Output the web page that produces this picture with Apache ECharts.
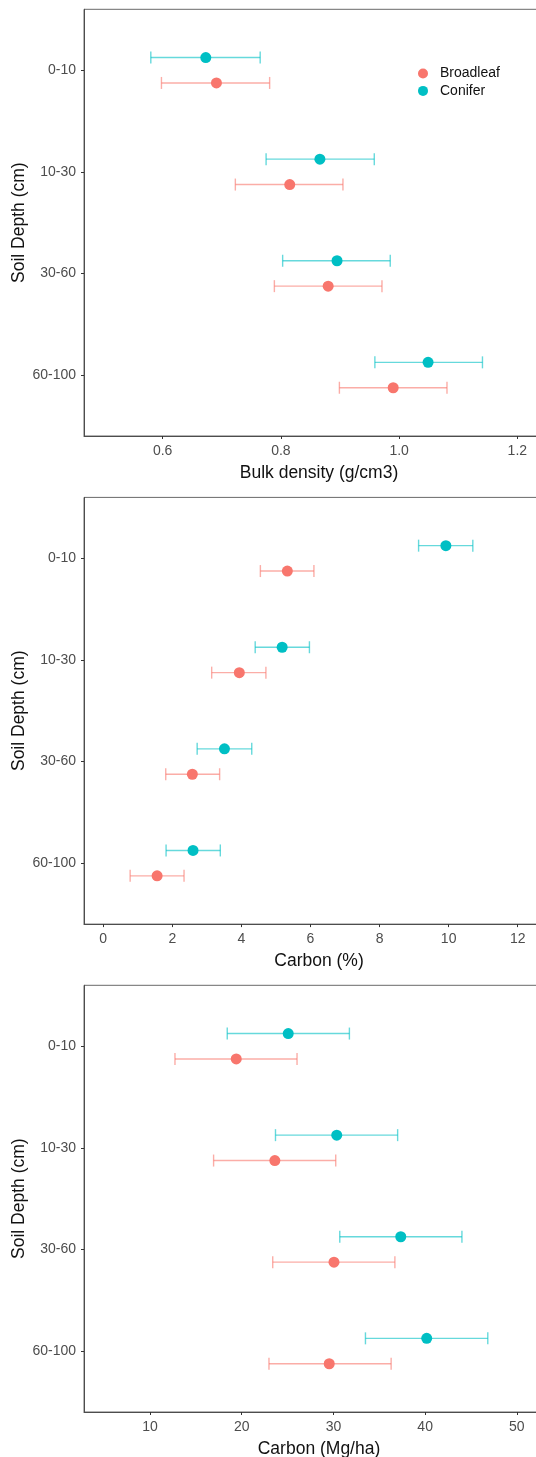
<!DOCTYPE html>
<html>
<head>
<meta charset="utf-8">
<script src="https://cdn.jsdelivr.net/npm/echarts@6/dist/echarts.min.js"></script>
<style>
html,body{margin:0;padding:0;background:#fff;}
#chart{width:536px;height:1457px;}
</style>
</head>
<body>
<div id="chart"></div>
<script>
// ---- data ----
const depthLabels = ['0-10', '10-30', '30-60', '60-100'];
const groupNames = ['Broadleaf', 'Conifer'];

// Panel 1: Bulk density (g/cm3)
const bdTicks = [0.6, 0.8, 1.0, 1.2];
const bdBroadMean = [0.691, 0.815, 0.880, 0.990];
const bdBroadLow  = [0.598, 0.723, 0.789, 0.899];
const bdBroadHigh = [0.781, 0.905, 0.971, 1.081];
const bdConMean   = [0.673, 0.866, 0.895, 1.049];
const bdConLow    = [0.580, 0.775, 0.803, 0.959];
const bdConHigh   = [0.765, 0.958, 0.985, 1.141];

// Panel 2: Carbon (%)
const cpTicks = [0, 2, 4, 6, 8, 10, 12];
const cpBroadMean = [5.33, 3.94, 2.58, 1.56];
const cpBroadLow  = [4.55, 3.14, 1.81, 0.78];
const cpBroadHigh = [6.10, 4.71, 3.37, 2.34];
const cpConMean   = [9.92, 5.18, 3.51, 2.60];
const cpConLow    = [9.13, 4.40, 2.72, 1.82];
const cpConHigh   = [10.70, 5.97, 4.30, 3.39];

// Panel 3: Carbon (Mg/ha)
const cmTicks = [10, 20, 30, 40, 50];
const cmBroadMean = [19.40, 23.61, 30.06, 29.54];
const cmBroadLow  = [12.72, 16.93, 23.38, 22.97];
const cmBroadHigh = [26.03, 30.25, 36.70, 36.29];
const cmConMean   = [25.07, 30.36, 37.34, 40.17];
const cmConLow    = [18.42, 23.68, 30.69, 33.49];
const cmConHigh   = [31.74, 37.00, 44.01, 46.83];

// ---- styling ----
const FONT = "'Liberation Sans', Arial, Helvetica, sans-serif";
const colors = { Broadleaf: '#F8766D', Conifer: '#00BFC4' };
const dodge = { Broadleaf: 0.125, Conifer: -0.125 };

const panels = [
  { title: 'Bulk density (g/cm3)', ticks: bdTicks, min: 0.467, max: 1.262, dec: 1,
    Broadleaf: [bdBroadMean, bdBroadLow, bdBroadHigh], Conifer: [bdConMean, bdConLow, bdConHigh] },
  { title: 'Carbon (%)', ticks: cpTicks, min: -0.556, max: 13.05, dec: 0,
    Broadleaf: [cpBroadMean, cpBroadLow, cpBroadHigh], Conifer: [cpConMean, cpConLow, cpConHigh] },
  { title: 'Carbon (Mg/ha)', ticks: cmTicks, min: 2.8, max: 54.05, dec: 0,
    Broadleaf: [cmBroadMean, cmBroadLow, cmBroadHigh], Conifer: [cmConMean, cmConLow, cmConHigh] }
];

const gridTops = [9.3, 497.4, 985.3];
const gridHeight = 426.7;

const grids = [], xAxes = [], yAxes = [], series = [];

panels.forEach((p, i) => {
  grids.push({
    left: 84, top: gridTops[i], width: 470, height: gridHeight,
    containLabel: false, outerBoundsMode: 'none',
    show: true, borderColor: '#6a6a6a', borderWidth: 1, backgroundColor: 'transparent'
  });
  xAxes.push({
    type: 'value', gridIndex: i, min: p.min, max: p.max,
    name: p.title, nameLocation: 'middle', nameGap: 28, nameMoveOverlap: false,
    nameTextStyle: { fontFamily: FONT, fontSize: 17.5, color: '#111' },
    axisLine: { show: true, onZero: false, lineStyle: { color: '#4d4d4d', width: 1 } },
    axisTick: { show: true, length: 3, customValues: p.ticks, lineStyle: { color: '#333', width: 1 } },
    axisLabel: { customValues: p.ticks, margin: 8, fontFamily: FONT, fontSize: 14, color: '#4d4d4d',
      formatter: v => Number(v).toFixed(p.dec) },
    splitLine: { show: false }
  });
  yAxes.push({
    type: 'value', gridIndex: i, min: 0.4, max: 4.6, inverse: true,
    name: 'Soil Depth (cm)', nameLocation: 'middle', nameGap: 56, nameMoveOverlap: false,
    nameTextStyle: { fontFamily: FONT, fontSize: 17.5, color: '#111' },
    axisLine: { show: true, onZero: false, lineStyle: { color: '#4d4d4d', width: 1 } },
    axisTick: { show: true, length: 3, customValues: [1, 2, 3, 4], lineStyle: { color: '#333', width: 1 } },
    axisLabel: { customValues: [1, 2, 3, 4], margin: 8, fontFamily: FONT, fontSize: 14, color: '#4d4d4d',
      formatter: v => depthLabels[Math.round(v) - 1] },
    splitLine: { show: false }
  });

  groupNames.forEach(g => {
    const [mean, low, high] = p[g];
    const errData = depthLabels.map((d, k) => [low[k], high[k], k + 1 + dodge[g]]);
    const ptData = depthLabels.map((d, k) => [mean[k], k + 1 + dodge[g]]);
    series.push({
      type: 'custom', name: g, xAxisIndex: i, yAxisIndex: i,
      data: errData, encode: { x: [0, 1], y: 2 }, silent: true, z: 2,
      renderItem: (params, api) => {
        const y = api.value(2);
        const a = api.coord([api.value(0), y]);
        const b = api.coord([api.value(1), y]);
        const h = 6;
        const st = { stroke: colors[g], lineWidth: 1.4, opacity: 0.6 };
        return {
          type: 'group',
          children: [
            { type: 'line', shape: { x1: a[0], y1: a[1], x2: b[0], y2: b[1] }, style: st },
            { type: 'line', shape: { x1: a[0], y1: a[1] - h, x2: a[0], y2: a[1] + h }, style: st },
            { type: 'line', shape: { x1: b[0], y1: b[1] - h, x2: b[0], y2: b[1] + h }, style: st }
          ]
        };
      }
    });
    series.push({
      type: 'scatter', name: g, xAxisIndex: i, yAxisIndex: i,
      data: ptData, symbol: 'circle', symbolSize: 11, z: 3,
      itemStyle: { color: colors[g], opacity: 1 },
      emphasis: { disabled: true }
    });
  });
});

const chart = echarts.init(document.getElementById('chart'), null, { renderer: 'canvas' });
chart.setOption({
  animation: false,
  backgroundColor: '#fff',
  color: [colors.Broadleaf, colors.Conifer],
  legend: {
    data: groupNames.map(n => ({ name: n, icon: 'circle', itemStyle: { color: colors[n], opacity: 1 } })),
    orient: 'vertical', left: 418, top: 66.5, padding: 0,
    itemWidth: 10, itemHeight: 10, itemGap: 3.4,
    textStyle: { fontFamily: FONT, fontSize: 14, color: '#111', padding: [0, 0, 0, 7] },
    selectedMode: false
  },
  grid: grids,
  xAxis: xAxes,
  yAxis: yAxes,
  series: series
});
</script>
</body>
</html>
